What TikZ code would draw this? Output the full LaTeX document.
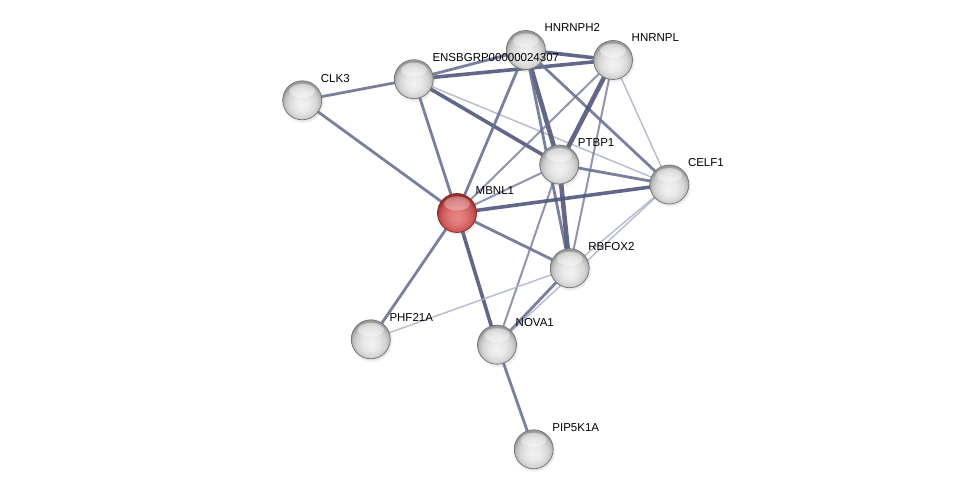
\documentclass[tikz,border=0pt]{standalone}
\usepackage{fontspec}
\setmainfont{Liberation Sans}
\usetikzlibrary{shadows}
\pgfdeclarelayer{edges}
\pgfsetlayers{edges,main}
\definecolor{eStrong}{RGB}{80,88,122}
\definecolor{eMed}{RGB}{106,114,148}
\definecolor{eLight}{RGB}{172,178,202}
\definecolor{rimGray}{RGB}{115,115,115}
\definecolor{rimRed}{RGB}{135,38,38}
\pgfdeclareradialshading{sphgray}{\pgfpoint{0bp}{-6bp}}{%
  color(0bp)=(white!95!black); color(10bp)=(white!91!black); color(18bp)=(white!84!black);
  color(23bp)=(white!74!black); color(26bp)=(white!60!black); color(50bp)=(white!60!black)}
\pgfdeclareradialshading{sphred}{\pgfpoint{0bp}{-6bp}}{%
  color(0bp)=(rgb,255:red,232;green,135;blue,135); color(10bp)=(rgb,255:red,224;green,118;blue,118);
  color(18bp)=(rgb,255:red,208;green,95;blue,95); color(23bp)=(rgb,255:red,188;green,72;blue,72);
  color(26bp)=(rgb,255:red,150;green,45;blue,45); color(50bp)=(rgb,255:red,150;green,45;blue,45)}
\tikzset{
  gnode/.style={circle, minimum size=39pt, inner sep=0pt, shading=sphgray, draw=rimGray, line width=0.7pt,
    circular drop shadow={shadow xshift=0.6pt, shadow yshift=-1.4pt, opacity=0.2},
    path picture={\fill[white, opacity=0.4] ([yshift=9.5pt]path picture bounding box.center) ellipse [x radius=13pt, y radius=7pt];}},
  rnode/.style={gnode, shading=sphred, draw=rimRed,
    path picture={\fill[white, opacity=0.3] ([yshift=9.5pt]path picture bounding box.center) ellipse [x radius=13pt, y radius=7pt];}},
  lbl/.style={anchor=base west, inner sep=0pt, font=\fontsize{11.5}{13}\selectfont, text=black},
  eA/.style={draw=eStrong, line width=4.6pt, opacity=0.9},
  eB/.style={draw=eStrong, line width=3.6pt, opacity=0.9},
  eC/.style={draw=eMed, line width=2.8pt, opacity=0.9},
  eD/.style={draw=eMed, line width=2pt, opacity=0.75},
  eE/.style={draw=eLight, line width=1.4pt, opacity=0.9},
}
\begin{document}
\begin{tikzpicture}[x=1pt,y=-1pt]
\useasboundingbox (0,0) rectangle (975,494);
% nodes
\node[gnode] (clk3) at (302.2,100.3) {};
\node[gnode] (ens) at (413.8,79.2) {};
\node[gnode] (hnrnph2) at (525.8,50) {};
\node[gnode] (hnrnpl) at (613,60) {};
\node[gnode] (ptbp1) at (559.2,164.5) {};
\node[gnode] (celf1) at (669.3,184.5) {};
\node[rnode] (mbnl1) at (457,213) {};
\node[gnode] (rbfox2) at (569.7,268.2) {};
\node[gnode] (phf21a) at (370.8,339.3) {};
\node[gnode] (nova1) at (497,344.7) {};
\node[gnode] (pip5k1a) at (533.7,449.3) {};
% edges
\begin{pgfonlayer}{edges}
\draw[eC] (clk3.center) -- (ens.center);
\draw[eC] (clk3.center) -- (mbnl1.center);
\draw[eC] (ens.center) -- (hnrnph2.center);
\draw[eB] (ens.center) -- (hnrnpl.center);
\draw[eC] (ens.center) -- (mbnl1.center);
\draw[eB] (ens.center) -- (ptbp1.center);
\draw[eE] (ens.center) -- (celf1.center);
\draw[eB] (hnrnph2.center) -- (hnrnpl.center);
\draw[eC] (hnrnph2.center) -- (mbnl1.center);
\draw[eA] (hnrnph2.center) -- (ptbp1.center);
\draw[eC] (hnrnph2.center) -- (rbfox2.center);
\draw[eC] (hnrnph2.center) -- (celf1.center);
\draw[eA] (hnrnpl.center) -- (ptbp1.center);
\draw[eD] (hnrnpl.center) -- (mbnl1.center);
\draw[eE] (hnrnpl.center) -- (celf1.center);
\draw[eD] (hnrnpl.center) -- (rbfox2.center);
\draw[eC] (ptbp1.center) -- (celf1.center);
\draw[eD] (ptbp1.center) -- (mbnl1.center);
\draw[eA] (ptbp1.center) -- (rbfox2.center);
\draw[eD] (ptbp1.center) -- (nova1.center);
\draw[eB] (mbnl1.center) -- (celf1.center);
\draw[eC] (mbnl1.center) -- (rbfox2.center);
\draw[eB] (mbnl1.center) -- (nova1.center);
\draw[eC] (mbnl1.center) -- (phf21a.center);
\draw[eE] (phf21a.center) -- (rbfox2.center);
\draw[eC] (rbfox2.center) -- (nova1.center);
\draw[eE] (celf1.center) -- (rbfox2.center);
\draw[eE] (celf1.center) -- (nova1.center);
\draw[eC] (nova1.center) -- (pip5k1a.center);
\end{pgfonlayer}
% labels
\node[lbl] (lclk3) at ([shift={(18.5,-18)}]clk3.center) {CLK3};
\node[lbl] (lens) at ([shift={(18.5,-18)}]ens.center) {ENSBGRP00000024307};
\node[lbl] (lhnrnph2) at ([shift={(18.5,-18)}]hnrnph2.center) {HNRNPH2};
\node[lbl] (lhnrnpl) at ([shift={(18.5,-18)}]hnrnpl.center) {HNRNPL};
\node[lbl] (lptbp1) at ([shift={(18.5,-18)}]ptbp1.center) {PTBP1};
\node[lbl] (lcelf1) at ([shift={(18.5,-18)}]celf1.center) {CELF1};
\node[lbl] (lmbnl1) at ([shift={(18.5,-18)}]mbnl1.center) {MBNL1};
\node[lbl] (lrbfox2) at ([shift={(18.5,-18)}]rbfox2.center) {RBFOX2};
\node[lbl] (lphf21a) at ([shift={(18.5,-18)}]phf21a.center) {PHF21A};
\node[lbl] (lnova1) at ([shift={(18.5,-18)}]nova1.center) {NOVA1};
\node[lbl] (lpip5k1a) at ([shift={(18.5,-18)}]pip5k1a.center) {PIP5K1A};
\end{tikzpicture}
\end{document}
